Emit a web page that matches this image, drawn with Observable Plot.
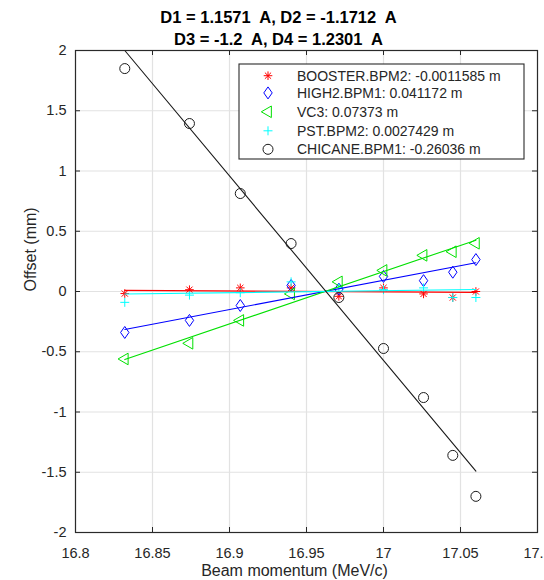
<!DOCTYPE html>
<html><head><meta charset="utf-8">
<script src="https://cdn.jsdelivr.net/npm/d3@7"></script>
<script src="https://cdn.jsdelivr.net/npm/@observablehq/plot@0.6"></script>
<style>
body{margin:0;background:#fff}
#chart svg{font-family:"Liberation Sans",Arial,Helvetica,sans-serif;display:block}
</style>
</head><body><div id="chart"></div>
<script>
const titleLines = ["D1 = 1.1571  A, D2 = -1.1712  A", "D3 = -1.2  A, D4 = 1.2301  A"];
const xLabel = "Beam momentum (MeV/c)";
const yLabel = "Offset (mm)";
const xTicks = [16.8, 16.85, 16.9, 16.95, 17, 17.05, 17.1];
const xTickLabels = ["16.8", "16.85", "16.9", "16.95", "17", "17.05", "17.1"];
const yTicks = [-2, -1.5, -1, -0.5, 0, 0.5, 1, 1.5, 2];
const yTickLabels = ["-2", "-1.5", "-1", "-0.5", "0", "0.5", "1", "1.5", "2"];

const momentum = [16.832, 16.874, 16.907, 16.940, 16.971, 17.000, 17.026, 17.045, 17.060];
const seriesNames = ["BOOSTER.BPM2", "HIGH2.BPM1", "VC3", "PST.BPM2", "CHICANE.BPM1"];
const dispersion = ["-0.0011585", "0.041172", "0.07373", "0.0027429", "-0.26036"];
const booster = [-0.017, 0.015, 0.03, 0.03, -0.04, 0.03, -0.02, -0.05, 0.0];
const high2 = [-0.34, -0.24, -0.116, 0.05, 0.02, 0.125, 0.09, 0.16, 0.265];
const vc3 = [-0.56, -0.43, -0.24, -0.02, 0.08, 0.175, 0.30, 0.33, 0.40];
const pst = [-0.09, -0.03, -0.01, 0.08, 0.03, 0.015, 0.03, -0.05, -0.05];
const chicane = [1.85, 1.394, 0.813, 0.398, -0.05, -0.473, -0.88, -1.36, -1.70];
const fitStart = [0.009, -0.315, -0.565, -0.021, 2.0];
const fitEnd = [-0.007, 0.238, 0.426, 0.016, -1.49];

const colors = ["#ff0000", "#0000ff", "#00e000", "#00ffff", "#1a1a1a"];

// wider diamond than d3's default, closer to the reference marker
const wideDiamond = {
  draw(ctx, size) {
    const h = Math.sqrt(size / 1.4), w = h * 0.7;
    ctx.moveTo(0, -h); ctx.lineTo(w, 0); ctx.lineTo(0, h); ctx.lineTo(-w, 0); ctx.closePath();
  }
};
// eight-armed asterisk (plus + times), like the reference marker
const asterisk8 = {
  draw(ctx, size) {
    const r = Math.sqrt(size / Math.PI), d = r * 0.72;
    ctx.moveTo(-r, 0); ctx.lineTo(r, 0);
    ctx.moveTo(0, -r); ctx.lineTo(0, r);
    ctx.moveTo(-d, -d); ctx.lineTo(d, d);
    ctx.moveTo(-d, d); ctx.lineTo(d, -d);
  }
};
const symbols = [asterisk8, wideDiamond, d3.symbolTriangle, d3.symbolPlus, d3.symbolCircle];
const symbolR = [4.3, 4.0, 4.3, 3.0, 5];
const symbolRotate = [0, 0, -90, 0, 0];

const values = [booster, high2, vc3, pst, chicane];

const W = 544, H = 580;
const mL = 75, mR = 7, mT = 50, mB = 48;

const marks = [
  Plot.gridX(xTicks, {stroke: "#e2e2e2", strokeOpacity: 1, strokeWidth: 1.2}),
  Plot.gridY(yTicks, {stroke: "#e2e2e2", strokeOpacity: 1, strokeWidth: 1.2}),
  Plot.axisX(xTicks, {tickSize: 0, tickPadding: 15, fontSize: 14.5, fill: "#262626",
    tickFormat: d => xTickLabels[xTicks.indexOf(d)], label: null}),
  Plot.axisY(yTicks, {tickSize: 0, tickPadding: 9, fontSize: 14.5, fill: "#262626",
    tickFormat: d => yTickLabels[yTicks.indexOf(d)], label: null}),
  // inward tick marks on all four sides
  Plot.tickX(xTicks, {x: d => d, insetTop: H - mT - mB - 5, stroke: "#262626"}),
  Plot.tickX(xTicks, {x: d => d, insetBottom: H - mT - mB - 5, stroke: "#262626"}),
  Plot.tickY(yTicks, {y: d => d, insetRight: W - mL - mR - 5, stroke: "#262626"}),
  Plot.tickY(yTicks, {y: d => d, insetLeft: W - mL - mR - 5, stroke: "#262626"})
];

values.forEach((vals, k) => {
  const pts = vals.map((v, i) => ({x: momentum[i], y: v}));
  marks.push(Plot.dot(pts, {x: "x", y: "y", symbol: symbols[k], r: symbolR[k],
    rotate: symbolRotate[k], stroke: colors[k], fill: "none", strokeWidth: 1}));
});
values.forEach((vals, k) => {
  const fit = [{x: momentum[0], y: fitStart[k]}, {x: momentum[momentum.length - 1], y: fitEnd[k]}];
  marks.push(Plot.line(fit, {x: "x", y: "y", stroke: colors[k], strokeWidth: 1.1}));
});

marks.push(Plot.frame({stroke: "#2a2a2a", strokeWidth: 1.2}));
marks.push(Plot.text([titleLines[0]], {text: d => d, frameAnchor: "top", dx: -28, dy: -39,
  fontSize: 16.5, fontWeight: "bold", fill: "#000"}));
marks.push(Plot.text([titleLines[1]], {text: d => d, frameAnchor: "top", dx: -28, dy: -17,
  fontSize: 16.5, fontWeight: "bold", fill: "#000"}));
marks.push(Plot.text([xLabel], {text: d => d, frameAnchor: "bottom", dx: -12, dy: 43,
  fontSize: 16, fill: "#262626"}));
marks.push(Plot.text([yLabel], {text: d => d, frameAnchor: "left", dx: -45, rotate: -90,
  fontSize: 16, fill: "#262626"}));

const chart = Plot.plot({
  width: W, height: H,
  marginLeft: mL, marginRight: mR, marginTop: mT, marginBottom: mB,
  style: {fontFamily: "'Liberation Sans', Arial, Helvetica, sans-serif", background: "#fff", overflow: "visible"},
  x: {domain: [16.8, 17.1]},
  y: {domain: [-2, 2]},
  marks
});
document.getElementById("chart").appendChild(chart);

// Legend (drawn into the same SVG)
const svg = d3.select(chart);
const lg = svg.append("g").attr("text-anchor", "start");
const box = {x: 239, y: 64, w: 285, h: 95};
lg.append("rect").attr("x", box.x).attr("y", box.y).attr("width", box.w).attr("height", box.h)
  .attr("fill", "#fff").attr("stroke", "#2a2a2a").attr("stroke-width", 1.1);
const rowY = [75.7, 92.9, 111.8, 130.8, 149.3];
seriesNames.forEach((name, k) => {
  const cy = rowY[k];
  lg.append("path")
    .attr("d", d3.symbol(symbols[k], Math.PI * symbolR[k] * symbolR[k])())
    .attr("transform", `translate(268,${cy}) rotate(${symbolRotate[k]})`)
    .attr("fill", "none").attr("stroke", colors[k]).attr("stroke-width", 1);
  lg.append("text").attr("x", 297).attr("y", cy).attr("dy", "0.35em")
    .attr("text-anchor", "start")
    .attr("font-size", 14).attr("fill", "#262626")
    .text(`${name}: ${dispersion[k]} m`);
});
</script>
</body></html>
